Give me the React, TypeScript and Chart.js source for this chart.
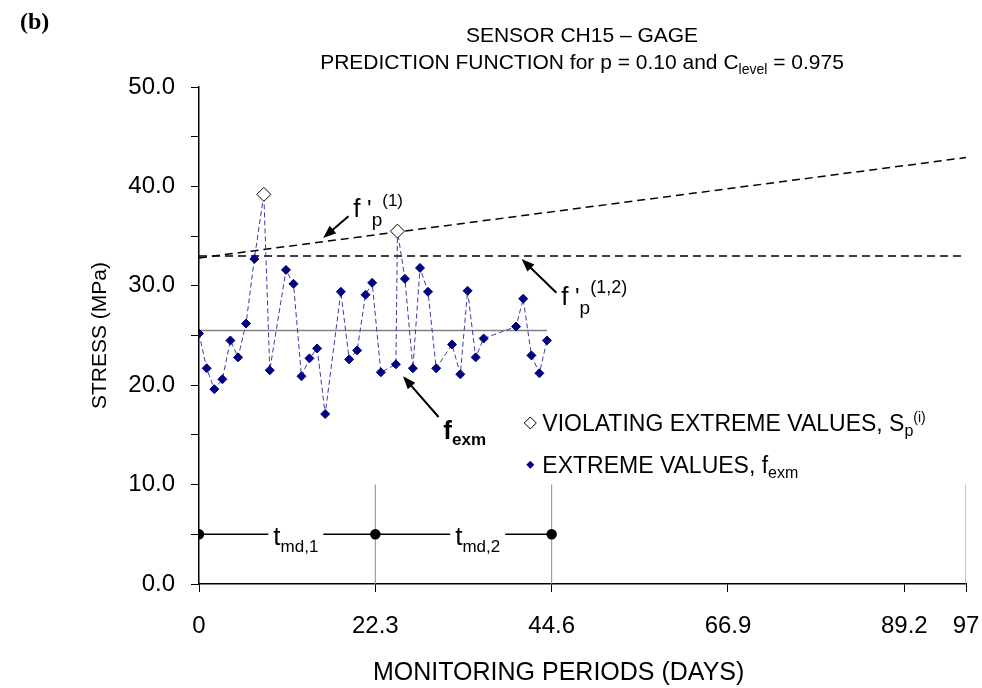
import React, { useEffect, useRef } from 'react';
import { Chart, registerables } from 'chart.js';

Chart.register(...registerables);

// ---- data ----
const extremeDays = [0, 0.97, 1.94, 2.96, 3.97, 4.94, 5.95, 7.0, 8.95, 11.0, 11.95, 12.96, 13.97, 14.94, 15.96, 17.94, 18.99, 20.0, 21.06, 21.9, 23.0, 24.9, 26.04, 27.05, 27.95, 28.96, 30.0, 32.0, 33.05, 33.97, 34.99, 36.0, 40.1, 41.0, 42.04, 43.05, 44.0];
const extremeStress = [25.2, 21.7, 19.6, 20.6, 24.5, 22.8, 26.2, 32.7, 21.5, 31.6, 30.2, 20.9, 22.7, 23.7, 17.1, 29.4, 22.6, 23.5, 29.1, 30.3, 21.3, 22.1, 30.7, 21.7, 31.8, 29.4, 21.7, 24.1, 21.1, 29.5, 22.8, 24.7, 25.9, 28.7, 23.0, 21.2, 24.5];
const violatingDays = [8.2, 25.1];
const violatingStress = [39.2, 35.5];
const meanDays = [0, 44];
const meanStress = [25.5, 25.5];
const fp1Days = [0, 97];
const fp1Stress = [32.8, 42.9];
const fp12Days = [0, 97];
const fp12Stress = [33.0, 33.0];
const tmdDays = [0, 22.3, 44.6];
const tmdStress = [5.0, 5.0, 5.0];
const dividerDays = [22.3, 44.6, 97];
const dividerStress = [0, 10];
const xTicks = [0, 22.3, 44.6, 66.9, 89.2, 97];

const SANS = "'Liberation Sans', Arial, sans-serif";

type Run = { t: string; size: number; dy?: number; bold?: boolean };

function runsWidth(ctx: CanvasRenderingContext2D, runs: Run[], fam: string) {
  let w = 0;
  for (const r of runs) {
    ctx.font = `${r.bold ? 'bold ' : ''}${r.size}px ${fam}`;
    w += ctx.measureText(r.t).width;
  }
  return w;
}

function drawRuns(ctx: CanvasRenderingContext2D, x: number, y: number, runs: Run[], fam: string, align: 'left' | 'center' = 'left', sx = 1) {
  ctx.save();
  let cx = x;
  if (align === 'center') cx = x - (runsWidth(ctx, runs, fam) * sx) / 2;
  ctx.translate(cx, y);
  ctx.scale(sx, 1);
  ctx.textAlign = 'left';
  ctx.textBaseline = 'alphabetic';
  ctx.fillStyle = '#000';
  let ox = 0;
  for (const r of runs) {
    ctx.font = `${r.bold ? 'bold ' : ''}${r.size}px ${fam}`;
    ctx.fillText(r.t, ox, r.dy || 0);
    ox += ctx.measureText(r.t).width;
  }
  ctx.restore();
}

function arrow(ctx: CanvasRenderingContext2D, x1: number, y1: number, x2: number, y2: number) {
  const ang = Math.atan2(y2 - y1, x2 - x1);
  const L = 13, W = 5;
  ctx.save();
  ctx.strokeStyle = '#000';
  ctx.fillStyle = '#000';
  ctx.lineWidth = 2;
  ctx.beginPath();
  ctx.moveTo(x1, y1);
  ctx.lineTo(x2 - Math.cos(ang) * L * 0.8, y2 - Math.sin(ang) * L * 0.8);
  ctx.stroke();
  ctx.beginPath();
  ctx.moveTo(x2, y2);
  ctx.lineTo(x2 - L * Math.cos(ang) + W * Math.sin(ang), y2 - L * Math.sin(ang) - W * Math.cos(ang));
  ctx.lineTo(x2 - L * Math.cos(ang) - W * Math.sin(ang), y2 - L * Math.sin(ang) + W * Math.cos(ang));
  ctx.closePath();
  ctx.fill();
  ctx.restore();
}

const overlayPlugin = {
  id: 'overlay',
  afterDatasetsDraw(chart: any) {
    const ctx: CanvasRenderingContext2D = chart.ctx;
    const xs = chart.scales.x;
    const ys = chart.scales.y;
    const px = (d: number) => xs.getPixelForValue(d);
    const py = (s: number) => ys.getPixelForValue(s);
    ctx.save();

    // t_md labels with white background on the line
    const tmdLabels: [number, string][] = [[9.4, 'md,1'], [32.4, 'md,2']];
    for (const [d, sub] of tmdLabels) {
      const runs: Run[] = [{ t: 't', size: 26 }, { t: sub, size: 17, dy: 7 }];
      const w = runsWidth(ctx, runs, SANS);
      ctx.fillStyle = '#fff';
      ctx.fillRect(px(d) - 5, py(5) - 6, w + 10, 12);
      drawRuns(ctx, px(d), py(3.9), runs, SANS);
    }

    // f'p(1)
    drawRuns(ctx, px(19.5), py(36.9), [
      { t: 'f', size: 26 }, { t: " '", size: 24 }, { t: 'p', size: 19, dy: 9 }, { t: '(1)', size: 17, dy: -11 },
    ], SANS);
    arrow(ctx, px(18.9), py(37.0), px(15.7), py(34.8));

    // f'p(1,2)
    drawRuns(ctx, px(45.8), py(28.1), [
      { t: 'f', size: 26 }, { t: " '", size: 24 }, { t: 'p', size: 19, dy: 9 }, { t: '(1,2)', size: 18, dy: -12 },
    ], SANS);
    arrow(ctx, px(45.2), py(29.3), px(40.8), py(32.7));

    // f_exm
    drawRuns(ctx, px(30.9), py(14.6), [
      { t: 'f', size: 26, bold: true }, { t: 'exm', size: 17, dy: 6, bold: true },
    ], SANS);
    arrow(ctx, px(30.3), py(16.8), px(25.8), py(20.9));

    ctx.restore();
  },
  afterDraw(chart: any) {
    const ctx: CanvasRenderingContext2D = chart.ctx;
    const xs = chart.scales.x;
    const ys = chart.scales.y;
    ctx.save();
    // panel label
    ctx.font = "bold 24px 'Liberation Serif', 'Times New Roman', serif";
    ctx.fillStyle = '#000';
    ctx.textAlign = 'left';
    ctx.textBaseline = 'alphabetic';
    ctx.fillText('(b)', 20, 29);

    // titles
    const cx = 582;
    drawRuns(ctx, cx, 42, [{ t: 'SENSOR CH15 – GAGE', size: 21 }], SANS, 'center');
    drawRuns(ctx, cx, 69, [
      { t: 'PREDICTION FUNCTION for p = 0.10 and C', size: 21 },
      { t: 'level', size: 14, dy: 5 },
      { t: ' = 0.975', size: 21 },
    ], SANS, 'center');

    // x axis title
    drawRuns(ctx, 373, 680, [{ t: 'MONITORING PERIODS (DAYS)', size: 25 }], SANS);

    // legend
    const lx = xs.getPixelForValue(41.9);
    const r1 = ys.getPixelForValue(16.2);
    const r2 = ys.getPixelForValue(12.0);
    ctx.save();
    ctx.strokeStyle = '#000';
    ctx.fillStyle = '#fff';
    ctx.lineWidth = 1;
    ctx.beginPath();
    ctx.moveTo(lx, r1 - 6); ctx.lineTo(lx + 6, r1); ctx.lineTo(lx, r1 + 6); ctx.lineTo(lx - 6, r1); ctx.closePath();
    ctx.fill(); ctx.stroke();
    ctx.fillStyle = '#000080';
    ctx.beginPath();
    ctx.moveTo(lx, r2 - 4); ctx.lineTo(lx + 4, r2); ctx.lineTo(lx, r2 + 4); ctx.lineTo(lx - 4, r2); ctx.closePath();
    ctx.fill();
    ctx.restore();
    drawRuns(ctx, lx + 12, r1 + 8, [
      { t: 'VIOLATING EXTREME VALUES, S', size: 23 }, { t: 'p', size: 16, dy: 5 }, { t: '(i)', size: 14, dy: -9 },
    ], SANS);
    drawRuns(ctx, lx + 12, r2 + 8, [
      { t: 'EXTREME VALUES, f', size: 23 }, { t: 'exm', size: 16, dy: 5 },
    ], SANS);
    ctx.restore();
  },
};

function pts(xs: number[], ys: number[]) {
  return xs.map((x, i) => ({ x, y: ys[i] }));
}

export default function App() {
  const ref = useRef<HTMLCanvasElement | null>(null);
  useEffect(() => {
    if (!ref.current) return;
    const allPts = pts(extremeDays, extremeStress).concat(pts(violatingDays, violatingStress)).sort((a, b) => a.x - b.x);
    const dividerSets = dividerDays.map((d) => ({
      data: dividerStress.map((s) => ({ x: d, y: s })),
      borderColor: '#8c8c8c', borderWidth: 1, pointRadius: 0, showLine: true,
    }));
    const chart = new Chart(ref.current, {
      type: 'scatter',
      data: {
        datasets: [
          {
            data: pts(violatingDays, violatingStress), pointStyle: 'rectRot', pointRadius: 7,
            backgroundColor: '#fff', borderColor: '#000', borderWidth: 1, showLine: false,
          },
          {
            data: pts(extremeDays, extremeStress), pointStyle: 'rectRot', pointRadius: 4.5,
            backgroundColor: '#000080', borderColor: '#000080', borderWidth: 1, showLine: false,
          },
          {
            data: allPts, showLine: true, borderColor: '#3b3ba6', borderWidth: 1, borderDash: [5, 3], pointRadius: 0,
          },
          {
            data: pts(tmdDays, tmdStress), showLine: true, borderColor: '#000', borderWidth: 1.5,
            pointRadius: 4.5, pointStyle: 'circle', backgroundColor: '#000', pointBorderColor: '#000',
          },
          ...dividerSets,
          {
            data: pts(meanDays, meanStress), showLine: true, borderColor: '#808080', borderWidth: 1.5, pointRadius: 0,
          },
          {
            data: pts(fp1Days, fp1Stress), showLine: true, borderColor: '#000', borderWidth: 1.5, borderDash: [8, 5], pointRadius: 0,
          },
          {
            data: pts(fp12Days, fp12Stress), showLine: true, borderColor: '#000', borderWidth: 1.5, borderDash: [8, 5], pointRadius: 0,
          },
        ] as any,
      },
      options: {
        animation: false,
        responsive: false,
        devicePixelRatio: 1,
        layout: { padding: { top: 87, right: 16, left: 0, bottom: 0 } },
        plugins: { legend: { display: false }, tooltip: { enabled: false }, title: { display: false } },
        scales: {
          x: {
            type: 'linear', min: 0, max: 97,
            afterBuildTicks: (axis: any) => { axis.ticks = xTicks.map((v) => ({ value: v })); },
            afterFit: (axis: any) => { axis.height = 104; axis.paddingLeft = 0; axis.paddingRight = 0; },
            ticks: {
              color: '#000', font: { family: SANS, size: 24 }, padding: 20, maxRotation: 0, autoSkip: false,
              callback: (v: any) => String(v),
            },
            grid: { drawOnChartArea: false, drawTicks: true, tickLength: 8, color: '#000', lineWidth: 1 },
            border: { display: true, color: '#000', width: 1.5 },
            title: { display: false },
          },
          y: {
            type: 'linear', min: 0, max: 50,
            afterFit: (axis: any) => { axis.width = 199; },
            ticks: {
              stepSize: 5, color: '#000', font: { family: SANS, size: 24 }, padding: 16,
              callback: (v: any) => (Number(v) % 10 === 0 ? Number(v).toFixed(1) : ''),
            },
            grid: { drawOnChartArea: false, drawTicks: true, tickLength: 8, color: '#000', lineWidth: 1 },
            border: { display: true, color: '#000', width: 1.5 },
            title: { display: true, text: 'STRESS (MPa)', color: '#000', font: { family: SANS, size: 21 }, padding: { top: 88, bottom: 0 } },
          },
        },
      } as any,
      plugins: [overlayPlugin],
    });
    return () => chart.destroy();
  }, []);
  return (
    <div style={{ position: 'fixed', left: 0, top: 0, width: 982, height: 688, background: '#fff' }}>
      <canvas ref={ref} width={982} height={688} style={{ width: 982, height: 688, display: 'block' }} />
    </div>
  );
}
